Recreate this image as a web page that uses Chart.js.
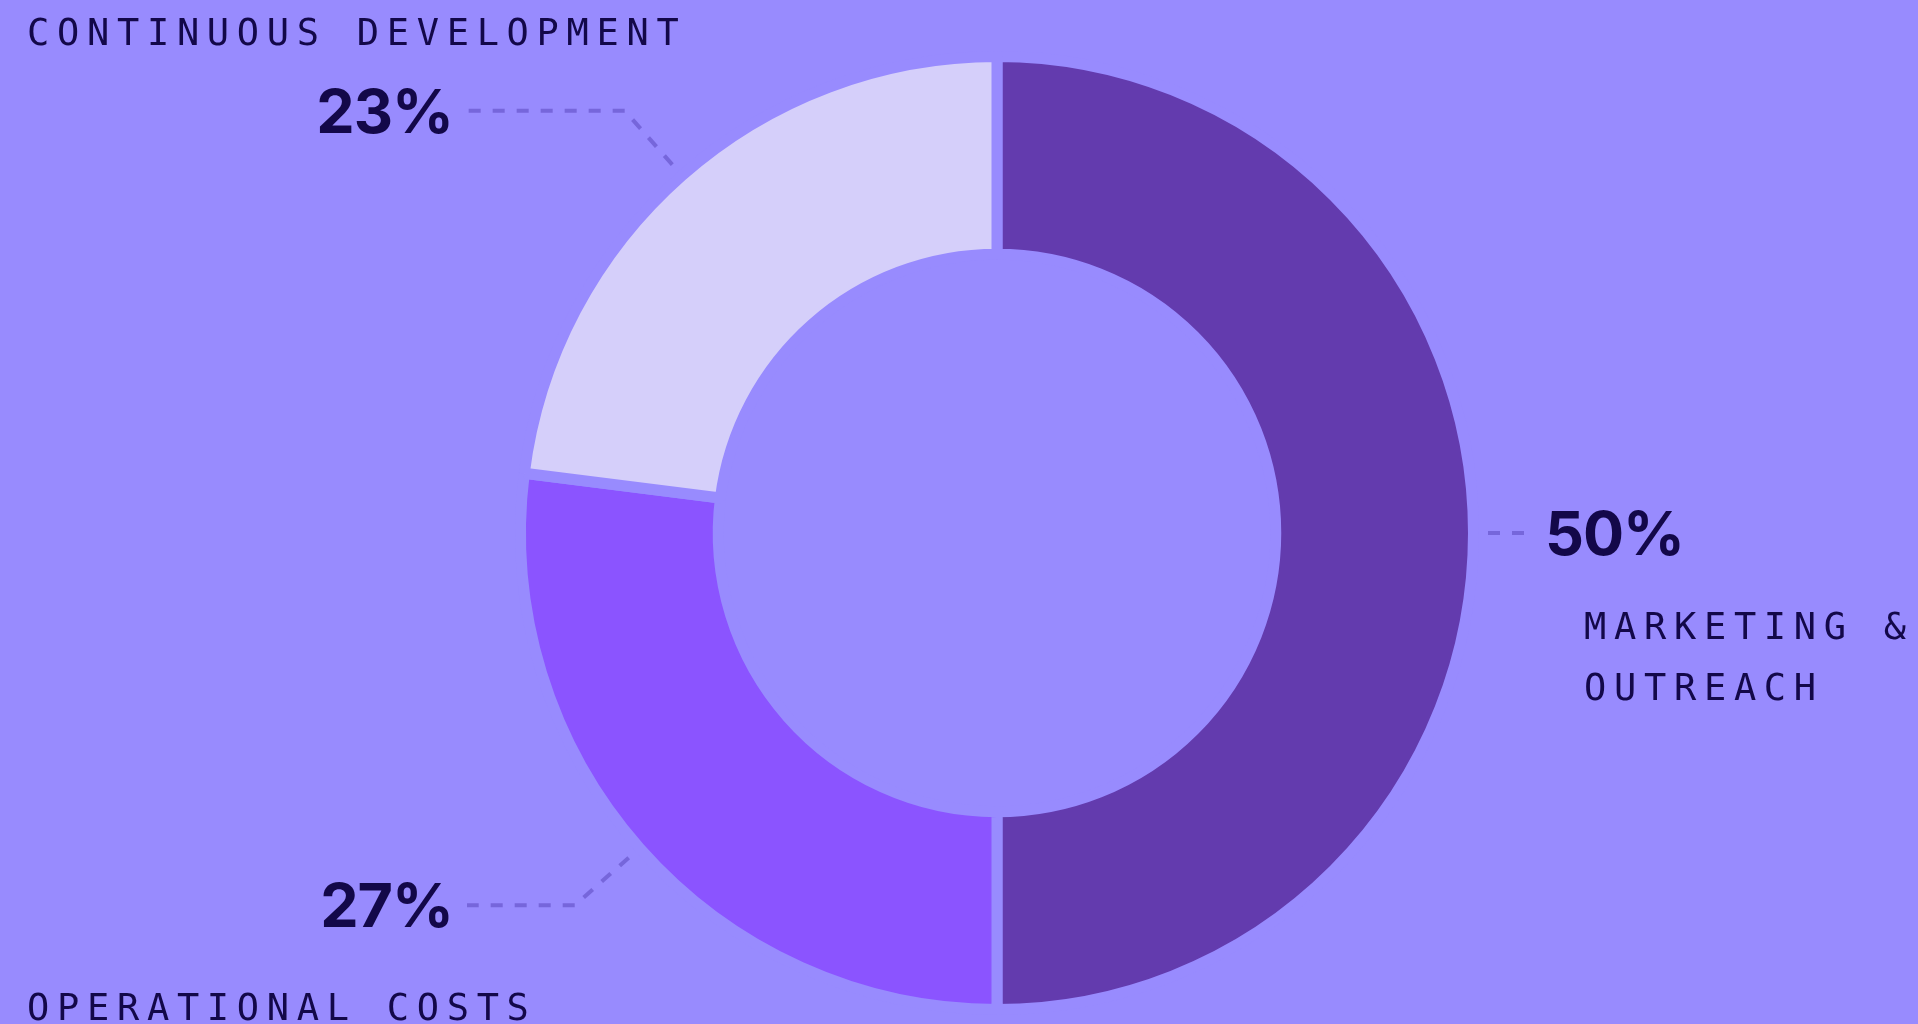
<!DOCTYPE html>
<html>
<head>
<meta charset="utf-8">
<script src="https://cdn.jsdelivr.net/npm/chart.js@4"></script>
<style>
  html, body { margin: 0; padding: 0; background: #988bfe; overflow: hidden; }
  #wrap { width: 1918px; height: 1024px; }
</style>
</head>
<body>
<div id="wrap"><canvas id="budget"></canvas></div>
<script>
// datos del gráfico
const categories = [['MARKETING &', 'OUTREACH'], ['OPERATIONAL COSTS'], ['CONTINUOUS DEVELOPMENT']];
const shares = [50, 27, 23];
const sliceColors = ['#633bae', '#8b54ff', '#d5cffa'];

const bg = '#988bfe';
const ink = '#130849';

// lineas guia + etiquetas
const calloutPlugin = {
  id: 'callouts',
  afterDatasetsDraw(chart) {
    const ctx = chart.ctx;
    const arcs = chart.getDatasetMeta(0).data;
    ctx.save();
    arcs.forEach((arc, i) => {
      const {x: cx, y: cy, outerRadius, startAngle, endAngle} = arc.getProps(['x', 'y', 'outerRadius', 'startAngle', 'endAngle'], true);
      const r = outerRadius - 5.5; // borde visible
      const mid = (startAngle + endAngle) / 2;
      const dx = Math.cos(mid), dy = Math.sin(mid);
      const right = dx > 0.01;
      const endX = right ? cx + 528 : cx - 530;
      const sx = cx + dx * (r + 20), sy = cy + dy * (r + 20);
      let ex = cx + dx * (r + 92), ey = cy + dy * (r + 92);
      if (right ? ex > endX : ex < endX) { ex = endX; ey = sy; }

      ctx.strokeStyle = 'rgba(110, 92, 210, 0.8)';
      ctx.lineWidth = 4;
      ctx.setLineDash([12, 12]);
      ctx.beginPath();
      ctx.moveTo(sx, sy);
      ctx.lineTo(ex, ey);
      ctx.lineTo(endX, ey);
      ctx.stroke();
      ctx.setLineDash([]);

      ctx.fillStyle = ink;
      ctx.font = '700 61px Inter, "Noto Sans", sans-serif';
      ctx.textBaseline = 'alphabetic';
      ctx.textAlign = right ? 'left' : 'right';
      ctx.letterSpacing = '-1px';
      ctx.fillText(shares[i] + '%', right ? endX + 20 : endX - 14, ey + 22);
    });

    // nombres de categorias
    ctx.font = '37px "DejaVu Sans Mono", monospace';
    ctx.letterSpacing = '7.7px';
    ctx.textAlign = 'left';
    ctx.fillStyle = ink;
    ctx.fillText(categories[2][0], 27, 45);
    ctx.fillText(categories[1][0], 27, 1020);
    ctx.fillText(categories[0][0], 1584, 639);
    ctx.fillText(categories[0][1], 1584, 700);
    ctx.restore();
  }
};

const ctx1 = document.getElementById('budget').getContext('2d');
const budgetChart = new Chart(ctx1, {
  type: 'doughnut',
  data: {
    labels: categories.map(c => c.join(' ')),
    datasets: [{
      data: shares,
      backgroundColor: sliceColors,
      borderColor: bg,
      borderWidth: 11,
      borderAlign: 'center'
    }]
  },
  options: {
    responsive: true,
    maintainAspectRatio: false,
    animation: false,
    cutout: '58.5%',
    layout: { padding: { top: 51, bottom: 9, left: 76, right: 0 } },
    plugins: {
      legend: { display: false },
      tooltip: { enabled: false }
    }
  },
  plugins: [calloutPlugin]
});
</script>
</body>
</html>
